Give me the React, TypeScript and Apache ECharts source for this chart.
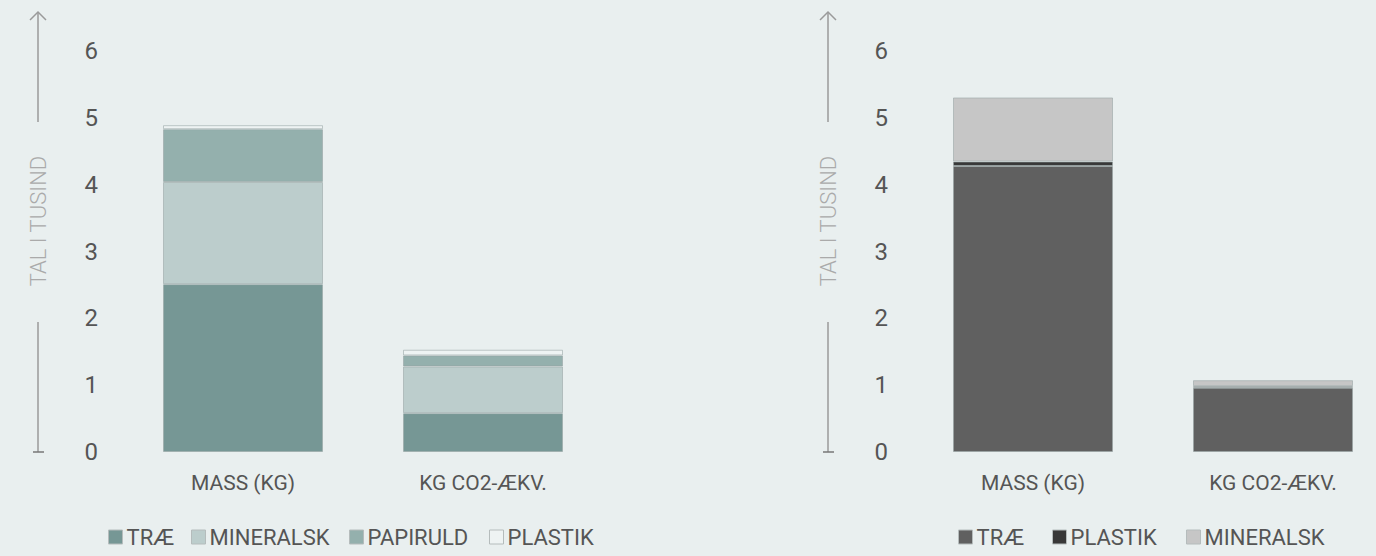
import React, { useEffect, useRef } from "react";
import * as echarts from "echarts";

const categories = ["MASS (KG)", "KG CO2-ÆKV."];
const yTicks = [0, 1, 2, 3, 4, 5, 6];

// Left chart (thousands)
const leftTrae = [2.51, 0.58];
const leftMineralsk = [1.53, 0.7];
const leftPapiruld = [0.79, 0.165];
const leftPlastik = [0.06, 0.085];

// Right chart (thousands)
const rightTrae = [4.28, 0.96];
const rightPlastik = [0.065, 0.025];
const rightMineralsk = [0.96, 0.09];

const FONT = "Roboto";
const BG = "#e9efef";

export default function App() {
  const ref = useRef<HTMLDivElement>(null);
  useEffect(() => {
    if (!ref.current) return;
    const chart = echarts.init(ref.current, undefined, { renderer: "svg" });
    const border = { borderColor: "rgba(150,162,162,0.55)", borderWidth: 1 };
    const mkSeries = (name: string, data: number[], color: string, idx: number, stack: string) => ({
      type: "bar",
      name,
      data,
      stack,
      xAxisIndex: idx,
      yAxisIndex: idx,
      barWidth: 160,
      itemStyle: { color, ...border },
      emphasis: { disabled: true },
    });
    const legendItems: [string, number][] = [
      ["L_TRÆ", 108],
      ["L_MINERALSK", 191],
      ["L_PAPIRULD", 349],
      ["L_PLASTIK", 489],
      ["R_TRÆ", 958],
      ["R_PLASTIK", 1052],
      ["R_MINERALSK", 1186],
    ];
    const grids = [
      { left: 243, right: 1376 - 483, top: 51, bottom: 104 },
      { left: 1033, right: 1376 - 1273, top: 51, bottom: 104 },
    ];
    const xAxes = grids.map((_, i) => ({
      type: "category",
      gridIndex: i,
      data: categories,
      boundaryGap: false,
      axisLine: { show: false },
      axisTick: { show: false },
      splitLine: { show: false },
      axisLabel: {
        interval: 0,
        margin: 20,
        fontFamily: FONT,
        fontSize: 21,
        color: "#555",
        showMinLabel: true,
        showMaxLabel: true,
      },
    }));
    const yAxes = grids.map((_, i) => ({
      type: "value",
      gridIndex: i,
      min: yTicks[0],
      max: yTicks[yTicks.length - 1],
      interval: 1,
      axisLine: { show: false },
      axisTick: { show: false },
      splitLine: { show: false },
      axisLabel: {
        margin: 145,
        fontFamily: FONT,
        fontSize: 24,
        color: "#555",
      },
    }));
    const axisDecor = (x: number) => [
      {
        type: "line",
        shape: { x1: x, y1: 12, x2: x, y2: 122 },
        style: { stroke: "#9a9a9a", lineWidth: 1.5 },
      },
      {
        type: "polyline",
        shape: { points: [[x - 8, 20], [x, 12], [x + 8, 20]] },
        style: { stroke: "#9a9a9a", lineWidth: 1.5, fill: null },
      },
      {
        type: "line",
        shape: { x1: x, y1: 322, x2: x, y2: 452 },
        style: { stroke: "#9a9a9a", lineWidth: 1.5 },
      },
      {
        type: "line",
        shape: { x1: x - 5, y1: 452, x2: x + 6, y2: 452 },
        style: { stroke: "#777", lineWidth: 1.5 },
      },
      {
        type: "text",
        x: x,
        y: 221,
        rotation: Math.PI / 2,
        style: {
          text: "TAL I TUSIND",
          fontFamily: FONT,
          fontWeight: 300,
          fontSize: 22,
          fill: "#aaaaaa",
          align: "center",
          verticalAlign: "middle",
        },
      },
    ];
    chart.setOption({
      animation: false,
      backgroundColor: BG,
      grid: grids,
      xAxis: xAxes,
      yAxis: yAxes,
      legend: legendItems.map(([name, left]) => ({
        data: [name],
        left,
        top: 526,
        padding: 0,
        icon: "rect",
        itemWidth: 14,
        itemHeight: 14,
        itemGap: 0,
        selectedMode: false,
        formatter: (n: string) => n.slice(2),
        itemStyle: { borderColor: "#b5bcbc", borderWidth: 1 },
        textStyle: { fontFamily: FONT, fontSize: 22, color: "#555", padding: [0, 0, 0, -1] },
      })),
      series: [
        mkSeries("L_TRÆ", leftTrae, "#769795", 0, "l"),
        mkSeries("L_MINERALSK", leftMineralsk, "#bccdcc", 0, "l"),
        mkSeries("L_PAPIRULD", leftPapiruld, "#94b0ad", 0, "l"),
        mkSeries("L_PLASTIK", leftPlastik, "#eef3f3", 0, "l"),
        mkSeries("R_TRÆ", rightTrae, "#606060", 1, "r"),
        mkSeries("R_PLASTIK", rightPlastik, "#383838", 1, "r"),
        mkSeries("R_MINERALSK", rightMineralsk, "#c6c6c6", 1, "r"),
      ],
      graphic: [...axisDecor(38), ...axisDecor(828)],
    });
    return () => chart.dispose();
  }, []);
  return (
    <div
      ref={ref}
      style={{ position: "fixed", left: 0, top: 0, width: 1376, height: 556, background: BG }}
    />
  );
}
